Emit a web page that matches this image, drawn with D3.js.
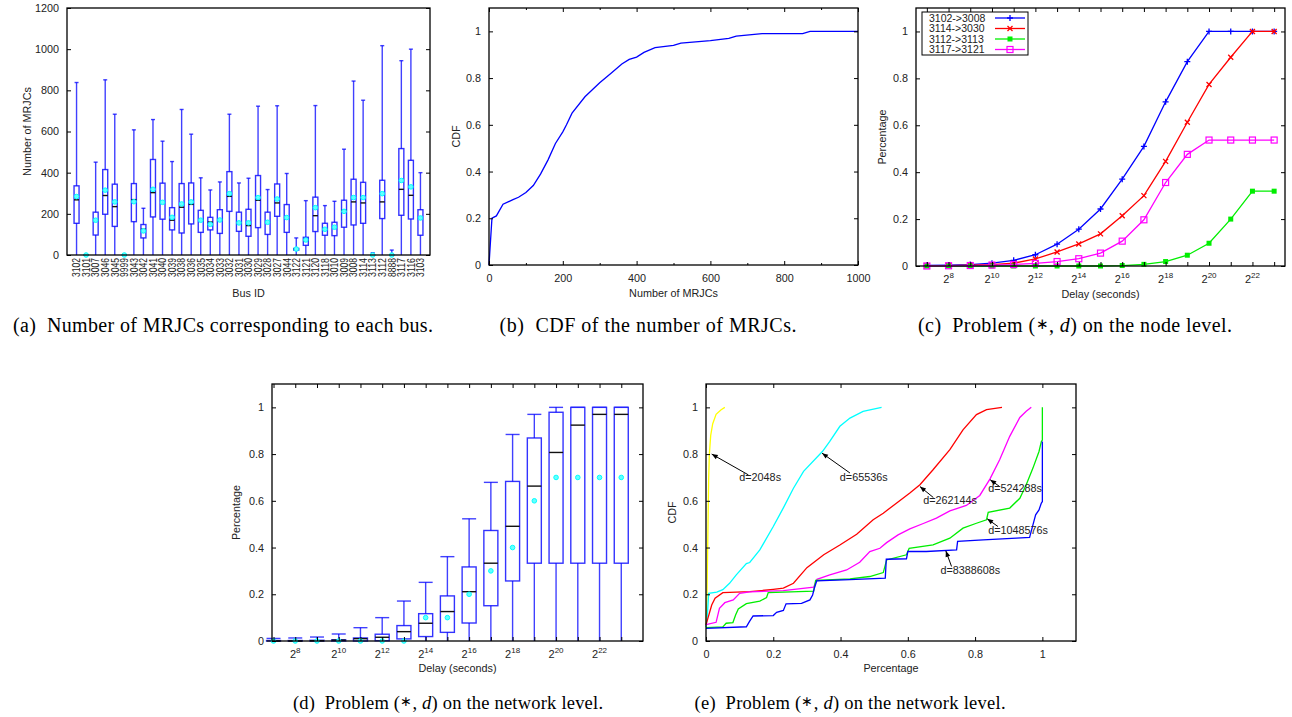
<!DOCTYPE html>
<html lang="en">
<head>
<meta charset="utf-8">
<title>MRJC delay figures</title>
<script src="https://cdn.jsdelivr.net/npm/d3@7"></script>
<style>
body { margin: 0; background: #fff; }
text { font-family: "Liberation Sans", Arial, sans-serif; fill: #222; }
text.cap { font-family: "Liberation Serif", "Times New Roman", serif; fill: #000; }
</style>
</head>
<body>
<script>
// ---- (a) box plot per bus
var busIds  = ["3102","3101","3007","3046","3045","9999","3043","3042","3041","3040","3039","3038","3036","3035","3034","3033","3032","3031","3030","3029","3028","3027","3044","3122","3121","3120","3118","3010","3009","3008","3114","3113","3112","8888","3117","3116","3103"];
var busMax  = [838,0,451,851,684,0,608,227,658,553,454,707,587,375,316,355,684,350,373,723,318,725,396,83,264,726,240,261,514,845,752,11,1017,24,944,1000,400];
var busQ3   = [336,0,208,415,344,0,347,148,464,349,230,347,350,217,183,220,405,208,222,386,208,345,245,32,86,281,154,159,266,368,353,0,363,0,517,460,220];
var busMed  = [268,0,169,289,235,0,269,125,303,256,169,232,246,169,160,170,285,154,143,266,159,253,182,29,70,191,125,131,217,258,253,0,258,0,319,290,178];
var busQ1   = [154,0,97,198,139,0,162,83,185,174,122,107,151,110,122,105,212,115,91,133,100,188,110,24,47,114,96,94,135,146,154,0,177,0,193,175,96];
var busMean = [284,0,169,315,258,0,259,117,319,256,183,248,258,169,149,170,298,156,156,279,159,272,182,29,73,230,125,135,212,279,279,0,298,0,362,331,180];
var busMin  = [0,0,0,0,0,0,0,0,0,0,0,0,0,0,0,0,0,0,0,0,0,0,0,0,0,0,0,0,0,0,0,0,0,0,0,0,0];

// ---- (b) CDF of MRJCs
var cdfX = [0,8,20,38,65,80,100,120,140,160,180,200,210,225,260,300,330,360,380,400,420,450,500,520,560,600,650,670,740,850,870,1000];
var cdfY = [0,0.2,0.21,0.26,0.28,0.29,0.31,0.34,0.39,0.45,0.52,0.57,0.60,0.65,0.72,0.78,0.82,0.86,0.88,0.89,0.91,0.93,0.94,0.95,0.955,0.96,0.97,0.98,0.99,0.99,1.0,1.0];

// ---- (c) node level
var nodeExp = [7,8,9,10,11,12,13,14,15,16,17,18,19,20,21,22,23];
var node3102 = [0.003,0.004,0.006,0.012,0.024,0.048,0.093,0.157,0.243,0.37,0.51,0.70,0.871,1,1,1,1];
var node3114 = [0.001,0.002,0.004,0.006,0.012,0.03,0.06,0.094,0.137,0.214,0.30,0.446,0.613,0.774,0.89,1,1];
var node3112 = [0,0,0,0,0,0,0,0,0,0.002,0.007,0.019,0.046,0.097,0.2,0.319,0.319];
var node3117 = [0,0.001,0.002,0.004,0.006,0.011,0.019,0.031,0.055,0.106,0.197,0.356,0.476,0.537,0.537,0.537,0.537];
var nodeNames = ["3102->3008","3114->3030","3112->3113","3117->3121"];

// ---- (d) network level box plot
var netExp  = [7,8,9,10,11,12,13,14,15,16,17,18,19,20,21,22,23];
var netMax  = [0.011,0.013,0.017,0.03,0.057,0.10,0.171,0.251,0.361,0.523,0.679,0.884,0.97,1,1,1,1];
var netQ3   = [0.002,0.002,0.003,0.005,0.013,0.029,0.066,0.117,0.193,0.317,0.473,0.683,0.869,0.979,1,1,1];
var netMed  = [0,0,0.001,0.004,0.01,0.016,0.04,0.076,0.126,0.211,0.333,0.491,0.663,0.807,0.924,0.97,0.97];
var netQ1   = [0,0,0,0,0,0.001,0.009,0.019,0.037,0.077,0.151,0.257,0.333,0.333,0.333,0.333,0.333];
var netMean = [0,0,0,0,0,0,0,0.1,0.1,0.2,0.3,0.4,0.6,0.7,0.7,0.7,0.7];
var netMin  = [0,0,0,0,0,0,0,0,0,0,0,0,0,0,0,0,0];

// ---- (e) CDF of percentage per delay
var e2048X = [0,0.003,0.006,0.008,0.01,0.014,0.02,0.03,0.045,0.056];
var e2048Y = [0.06,0.2,0.5,0.7,0.8,0.88,0.93,0.97,0.99,1.0];
var e65536X = [0,0.004,0.008,0.032,0.05,0.07,0.09,0.12,0.13,0.16,0.2,0.23,0.26,0.29,0.346,0.368,0.398,0.428,0.467,0.522];
var e65536Y = [0.06,0.11,0.204,0.209,0.22,0.247,0.283,0.331,0.336,0.39,0.49,0.57,0.654,0.726,0.811,0.854,0.919,0.954,0.983,1.0];
var e262144X = [0,0.017,0.027,0.05,0.13,0.2,0.23,0.26,0.3,0.35,0.398,0.448,0.497,0.527,0.566,0.606,0.636,0.675,0.725,0.764,0.804,0.834,0.88];
var e262144Y = [0.069,0.154,0.183,0.207,0.211,0.221,0.226,0.247,0.314,0.369,0.411,0.457,0.519,0.547,0.59,0.633,0.669,0.733,0.819,0.904,0.969,0.99,1.0];
var e524288X = [0,0.03,0.04,0.056,0.081,0.1,0.13,0.23,0.32,0.33,0.368,0.418,0.457,0.487,0.517,0.537,0.571,0.606,0.646,0.685,0.725,0.774,0.814,0.844,0.873,0.903,0.933,0.952,0.967];
var e524288Y = [0.07,0.08,0.14,0.164,0.176,0.204,0.21,0.216,0.23,0.264,0.283,0.304,0.337,0.383,0.397,0.421,0.454,0.48,0.503,0.526,0.557,0.58,0.623,0.693,0.776,0.876,0.957,0.983,1.0];
var e1048576X = [0,0.05,0.06,0.08,0.088,0.096,0.12,0.16,0.18,0.185,0.32,0.326,0.428,0.487,0.527,0.537,0.596,0.604,0.675,0.725,0.764,0.804,0.834,0.839,0.903,0.933,0.952,0.972,0.99,0.997,1.0,1.0];
var e1048576Y = [0.057,0.06,0.076,0.079,0.111,0.137,0.16,0.171,0.186,0.207,0.213,0.259,0.266,0.276,0.293,0.347,0.369,0.397,0.411,0.44,0.483,0.504,0.519,0.551,0.569,0.611,0.669,0.74,0.811,0.854,0.86,1.0];
var e8388608X = [0,0.12,0.129,0.14,0.2,0.21,0.23,0.238,0.284,0.309,0.317,0.322,0.329,0.428,0.533,0.536,0.596,0.6,0.655,0.745,0.748,0.824,0.923,0.962,0.972,0.98,0.99,0.997,1.0,1.0];
var e8388608Y = [0.054,0.061,0.083,0.107,0.109,0.123,0.131,0.159,0.161,0.176,0.197,0.226,0.257,0.263,0.269,0.35,0.352,0.383,0.383,0.39,0.426,0.433,0.44,0.443,0.497,0.54,0.561,0.59,0.597,0.854];

var W = 1292, H = 717;
var svg = d3.select("body").append("svg").attr("width", W).attr("height", H);

var BLUE = "#0000ff", RED = "#ff0000", GREEN = "#00ee00", MAG = "#ff00ff", CYAN = "#00ffff", YEL = "#ffff00";

function panel(l, t, r, b) {
    var g = svg.append("g").attr("transform", "translate(" + l + "," + t + ")");
    return { g: g, w: r - l, h: b - t };
}

// inward ticks on four sides like gnuplot
function axes(p, xs, ys, o) {
    var g = p.g, w = p.w, h = p.h;
    if (o.xTicks) {
        var bx = g.append("g").attr("transform", "translate(0," + h + ")")
            .call(d3.axisBottom(xs).tickValues(o.xTicks).tickSize(-4).tickPadding(9)
            .tickFormat(o.xFormat || d3.format("")));
        var tx = g.append("g").call(d3.axisTop(xs).tickValues(o.xTicks).tickSize(-4).tickFormat(""));
        [bx, tx].forEach(function (a) { a.select(".domain").remove(); a.attr("color", "#000"); });
    }
    if (o.xMinor) {
        g.append("g").attr("transform", "translate(0," + h + ")")
            .call(d3.axisBottom(xs).tickValues(o.xMinor).tickSize(-2).tickFormat(""))
            .attr("color", "#000").select(".domain").remove();
        g.append("g").call(d3.axisTop(xs).tickValues(o.xMinor).tickSize(-2).tickFormat(""))
            .attr("color", "#000").select(".domain").remove();
    }
    var ly = g.append("g").call(d3.axisLeft(ys).tickValues(o.yTicks).tickSize(-4).tickPadding(8)
        .tickFormat(o.yFormat || d3.format("")));
    var ry = g.append("g").attr("transform", "translate(" + w + ",0)")
        .call(d3.axisRight(ys).tickValues(o.yTicks).tickSize(-4).tickFormat(""));
    [ly, ry].forEach(function (a) { a.select(".domain").remove(); a.attr("color", "#000"); });
    g.selectAll(".tick text").attr("font-size", 10.8).attr("fill", "#222");
    g.append("rect").attr("width", w).attr("height", h)
        .attr("fill", "none").attr("stroke", "#000").attr("stroke-width", 1.3);
}

function xTitle(p, label, y) {
    p.g.append("text").attr("x", p.w / 2).attr("y", y).attr("text-anchor", "middle")
        .attr("font-size", 10.8).text(label);
}
function yTitle(p, label, x) {
    p.g.append("text").attr("transform", "translate(" + x + "," + (p.h / 2) + ") rotate(-90)")
        .attr("text-anchor", "middle").attr("font-size", 10.8).text(label);
}

// superscript log2 labels drawn manually
function pow2Labels(p, xs, exps, y) {
    exps.forEach(function (e) {
        var t = p.g.append("text").attr("x", xs(Math.pow(2, e))).attr("y", y)
            .attr("text-anchor", "middle").attr("font-size", 11);
        t.append("tspan").text("2");
        t.append("tspan").attr("dy", -5).attr("font-size", 8).text(e);
    });
}

function boxes(p, xs, ys, xv, mn, q1, med, q3, mx, mean, bw, cap) {
    var g = p.g.append("g");
    xv.forEach(function (xvv, i) {
        var cx = xs(xvv);
        g.append("line").attr("x1", cx).attr("x2", cx).attr("y1", ys(mn[i])).attr("y2", ys(mx[i]))
            .attr("stroke", BLUE).attr("stroke-width", 1.4).attr("stroke-opacity", 0.75);
        g.append("line").attr("x1", cx - cap / 2).attr("x2", cx + cap / 2).attr("y1", ys(mx[i])).attr("y2", ys(mx[i]))
            .attr("stroke", BLUE).attr("stroke-width", 1.4).attr("stroke-opacity", 0.75);
        g.append("rect").attr("x", cx - bw / 2).attr("y", ys(q3[i])).attr("width", bw)
            .attr("height", Math.max(0, ys(q1[i]) - ys(q3[i])))
            .attr("fill", "#fff").attr("stroke", BLUE).attr("stroke-width", 1.4).attr("stroke-opacity", 0.8);
        g.append("line").attr("x1", cx - bw / 2).attr("x2", cx + bw / 2).attr("y1", ys(med[i])).attr("y2", ys(med[i]))
            .attr("stroke", "#111").attr("stroke-width", 1.4);
        g.append("circle").attr("cx", cx).attr("cy", ys(mean[i])).attr("r", 2.3)
            .attr("fill", "#66ffff").attr("stroke", CYAN).attr("stroke-width", 1);
    });
}

// ================= (a)
var pa = panel(67, 8, 430, 255);
var xa = d3.scaleLinear().domain([0, busIds.length + 1]).range([0, pa.w]);
var ya = d3.scaleLinear().domain([0, 1200]).range([pa.h, 0]);
boxes(pa, xa, ya, busIds.map(function (d, i) { return i + 1; }), busMin, busQ1, busMed, busQ3, busMax, busMean, 5, 4);
axes(pa, xa, ya, { yTicks: d3.range(0, 1201, 200) });
busIds.forEach(function (id, i) {
    pa.g.append("text").attr("transform", "translate(" + (xa(i + 1) + 3.8) + "," + (pa.h + 3) + ") rotate(-90)")
        .attr("text-anchor", "end").attr("font-size", 10.5).attr("textLength", 19)
        .attr("lengthAdjust", "spacingAndGlyphs").text(id);
});
xTitle(pa, "Bus ID", pa.h + 42);
yTitle(pa, "Number of MRJCs", -36);

// ================= (b)
var pb = panel(489, 8, 858, 265);
var xb = d3.scaleLinear().domain([0, 1000]).range([0, pb.w]);
var yb = d3.scaleLinear().domain([0, 1.1]).range([pb.h, 0]);
pb.g.append("path").datum(cdfX.map(function (x, i) { return [x, cdfY[i]]; }))
    .attr("fill", "none").attr("stroke", BLUE).attr("stroke-width", 1.3)
    .attr("d", d3.line().x(function (d) { return xb(d[0]); }).y(function (d) { return yb(d[1]); }));
axes(pb, xb, yb, { xTicks: d3.range(0, 1001, 200), xMinor: d3.range(100, 1000, 200),
    yTicks: [0, 0.2, 0.4, 0.6, 0.8, 1] });
xTitle(pb, "Number of MRJCs", pb.h + 32);
yTitle(pb, "CDF", -29);

// ================= (c)
var pc = panel(916, 8, 1285, 266);
var xc = d3.scaleLog().base(2).domain([Math.pow(2, 6.5), Math.pow(2, 23.5)]).range([0, pc.w]);
var yc = d3.scaleLinear().domain([0, 1.1]).range([pc.h, 0]);
var nodeSeries = [node3102, node3114, node3112, node3117];
var nodeColors = [BLUE, RED, GREEN, MAG];
var lineC = d3.line().x(function (d) { return xc(Math.pow(2, d[0])); }).y(function (d) { return yc(d[1]); });

function marker(g, k, x, y, c) {
    if (k === 0) {
        g.append("path").attr("d", "M" + (x - 3) + "," + y + "h6M" + x + "," + (y - 3) + "v6")
            .attr("stroke", c).attr("stroke-width", 1.3);
    } else if (k === 1) {
        g.append("path").attr("d", "M" + (x - 2.5) + "," + (y - 2.5) + "l5,5M" + (x - 2.5) + "," + (y + 2.5) + "l5,-5")
            .attr("stroke", c).attr("stroke-width", 1.3);
    } else if (k === 2) {
        g.append("rect").attr("x", x - 2.5).attr("y", y - 2.5).attr("width", 5).attr("height", 5).attr("fill", c);
    } else {
        g.append("rect").attr("x", x - 3).attr("y", y - 3).attr("width", 6).attr("height", 6)
            .attr("fill", "none").attr("stroke", c).attr("stroke-width", 1.2);
    }
}

nodeSeries.forEach(function (s, k) {
    var pts = nodeExp.map(function (e, i) { return [e, s[i]]; });
    pc.g.append("path").datum(pts).attr("fill", "none").attr("stroke", nodeColors[k])
        .attr("stroke-width", 1.3).attr("d", lineC);
    pts.forEach(function (d) { marker(pc.g, k, xc(Math.pow(2, d[0])), yc(d[1]), nodeColors[k]); });
});
axes(pc, xc, yc, { xTicks: nodeExp.map(function (e) { return Math.pow(2, e); }), xFormat: function () { return ""; },
    yTicks: [0, 0.2, 0.4, 0.6, 0.8, 1] });
pow2Labels(pc, xc, [8, 10, 12, 14, 16, 18, 20, 22], pc.h + 17);
xTitle(pc, "Delay (seconds)", pc.h + 32);
yTitle(pc, "Percentage", -30);

// legend
var lg = pc.g.append("g").attr("transform", "translate(6,4)");
lg.append("rect").attr("width", 106).attr("height", 43).attr("fill", "#fff")
    .attr("stroke", "#000").attr("stroke-width", 1);
nodeNames.forEach(function (n, k) {
    var yy = 6 + k * 10.5;
    lg.append("text").attr("x", 7).attr("y", yy + 3.8).attr("font-size", 10.5).text(n);
    lg.append("line").attr("x1", 73).attr("x2", 103).attr("y1", yy).attr("y2", yy)
        .attr("stroke", nodeColors[k]).attr("stroke-width", 1.3);
    marker(lg, k, 88, yy, nodeColors[k]);
});

// ================= (d)
var pd = panel(272, 384, 643, 641);
var xd = d3.scaleLog().base(2).domain([Math.pow(2, 6.93), Math.pow(2, 24)]).range([0, pd.w]);
var yd = d3.scaleLinear().domain([0, 1.1]).range([pd.h, 0]);
boxes(pd, xd, yd, netExp.map(function (e) { return Math.pow(2, e); }), netMin, netQ1, netMed, netQ3, netMax, netMean, 14, 14);
axes(pd, xd, yd, { xTicks: netExp.map(function (e) { return Math.pow(2, e); }), xFormat: function () { return ""; },
    yTicks: [0, 0.2, 0.4, 0.6, 0.8, 1] });
pow2Labels(pd, xd, [8, 10, 12, 14, 16, 18, 20, 22], pd.h + 17);
xTitle(pd, "Delay (seconds)", pd.h + 31);
yTitle(pd, "Percentage", -32);

// ================= (e)
var pe = panel(706, 384, 1076, 641);
var xe = d3.scaleLinear().domain([0, 1.1]).range([0, pe.w]);
var ye = d3.scaleLinear().domain([0, 1.1]).range([pe.h, 0]);
var eCurves = [[e2048X, e2048Y, YEL], [e65536X, e65536Y, CYAN], [e262144X, e262144Y, RED],
    [e524288X, e524288Y, MAG], [e1048576X, e1048576Y, GREEN], [e8388608X, e8388608Y, BLUE]];
var lineE = d3.line().x(function (d) { return xe(d[0]); }).y(function (d) { return ye(d[1]); });
eCurves.forEach(function (c) {
    pe.g.append("path").datum(c[0].map(function (x, i) { return [x, c[1][i]]; }))
        .attr("fill", "none").attr("stroke", c[2]).attr("stroke-width", 1.3).attr("d", lineE);
});
axes(pe, xe, ye, { xTicks: [0, 0.2, 0.4, 0.6, 0.8, 1], yTicks: [0, 0.2, 0.4, 0.6, 0.8, 1] });
xTitle(pe, "Percentage", pe.h + 31);
yTitle(pe, "CDF", -30);

svg.append("defs").append("marker").attr("id", "ah").attr("viewBox", "0 0 10 10")
    .attr("refX", 10).attr("refY", 5).attr("markerWidth", 8).attr("markerHeight", 6)
    .attr("orient", "auto").append("path").attr("d", "M0,1L10,5L0,9z").attr("fill", "#000");

// annotations: text, text pos, arrow tail, arrow head (data coords)
var annText = ["d=2048s", "d=65536s", "d=262144s", "d=524288s", "d=1048576s", "d=8388608s"];
var annPos  = [[0.099, 0.686], [0.398, 0.686], [0.646, 0.586], [0.839, 0.636], [0.839, 0.457], [0.697, 0.286]];
var annTail = [[0.126, 0.711], [0.428, 0.719], [0.676, 0.614], [0.873, 0.661], [0.868, 0.49], [0.73, 0.319]];
var annHead = [[0.017, 0.80], [0.345, 0.804], [0.636, 0.661], [0.845, 0.69], [0.836, 0.523], [0.713, 0.386]];
annText.forEach(function (t, i) {
    pe.g.append("line").attr("x1", xe(annTail[i][0])).attr("y1", ye(annTail[i][1]))
        .attr("x2", xe(annHead[i][0])).attr("y2", ye(annHead[i][1]))
        .attr("stroke", "#000").attr("stroke-width", 1).attr("marker-end", "url(#ah)");
    pe.g.append("text").attr("x", xe(annPos[i][0])).attr("y", ye(annPos[i][1]))
        .attr("font-size", 10.8).text(t);
});

// ================= captions
function caption(x, y, size, len, tag, parts) {
    var t = svg.append("text").attr("class", "cap").attr("x", x).attr("y", y)
        .attr("text-anchor", "middle").attr("font-size", size)
        .attr("textLength", len).attr("lengthAdjust", "spacing");
    t.append("tspan").text(tag + "\u00a0 ");
    parts.forEach(function (p) {
        var s = t.append("tspan").text(p[0]);
        if (p[1] === "i") s.attr("font-style", "italic");
        if (p[1] === "star") s.attr("font-size", size * 0.75).attr("dy", -3);
        if (p[1] === "after") s.attr("dy", 3);
    });
}
var prob = function (lvl) {
    return [["Problem ("], ["\u2217", "star"], [", ", "after"], ["d", "i"], [") on the " + lvl + " level."]];
};
caption(223, 332, 20, 420, "(a)", [["Number of MRJCs corresponding to each bus."]]);
caption(648, 332, 20, 297, "(b)", [["CDF of the number of MRJCs."]]);
caption(1075, 332, 20, 314, "(c)", prob("node"));
caption(448, 709, 18.5, 310, "(d)", prob("network"));
caption(850, 709, 18.5, 311, "(e)", prob("network"));
</script>
</body>
</html>
